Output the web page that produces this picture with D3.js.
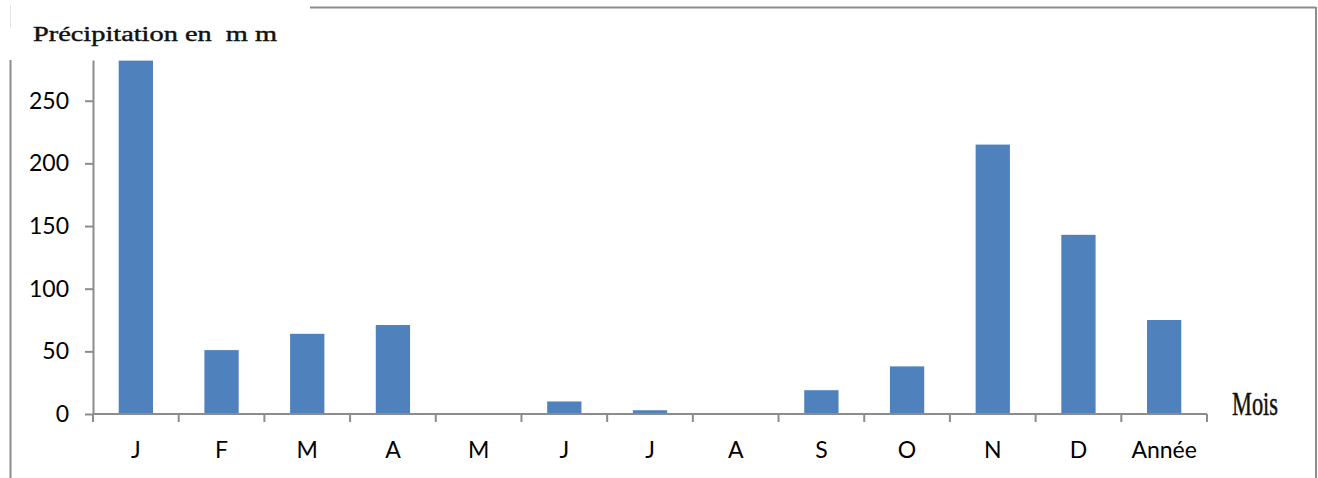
<!DOCTYPE html>
<html>
<head>
<meta charset="utf-8">
<script src="https://cdn.jsdelivr.net/npm/d3@7"></script>
<style>
  html, body { margin: 0; padding: 0; background: #fff; }
  svg { display: block; }
</style>
</head>
<body>
<svg id="chart" width="1318" height="478"></svg>
<script>
const categories = ["J", "F", "M", "A", "M", "J", "J", "A", "S", "O", "N", "D", "Année"];
const precipitation = [282, 51, 64, 71, 0, 10, 3, 0, 19, 38, 215, 143, 75];
const yTicks = [0, 50, 100, 150, 200, 250];

const svg = d3.select("#chart");
const margin = { left: 93, right: 111, top: 60, bottom: 64 };
const W = 1318, H = 478;
const labelFont = "Lato, 'Open Sans', 'Liberation Sans', sans-serif";

const x = d3.scaleBand()
  .domain(d3.range(categories.length))
  .range([margin.left, W - margin.right])
  .paddingInner(0.6)
  .paddingOuter(0.3);

const y = d3.scaleLinear()
  .domain([0, 282.5])
  .range([H - margin.bottom, margin.top]);

// frame lines
svg.append("line").attr("x1", 10.5).attr("x2", 10.5).attr("y1", 5).attr("y2", 28)
  .attr("stroke", "#e4e4e4").attr("stroke-width", 1);
svg.append("line").attr("x1", 10.5).attr("x2", 10.5).attr("y1", 60).attr("y2", H)
  .attr("stroke", "#8c8c8c").attr("stroke-width", 2);
svg.append("line").attr("x1", 310).attr("x2", 1316).attr("y1", 7.5).attr("y2", 7.5)
  .attr("stroke", "#8c8c8c").attr("stroke-width", 2);
svg.append("line").attr("x1", 1316).attr("x2", 1316).attr("y1", 7).attr("y2", H)
  .attr("stroke", "#8c8c8c").attr("stroke-width", 2);

// bars
svg.append("g").selectAll("rect")
  .data(precipitation)
  .join("rect")
  .attr("x", (d, i) => x(i))
  .attr("width", x.bandwidth())
  .attr("y", d => y(Math.min(d, 282.5)))
  .attr("height", d => y(0) - y(Math.min(d, 282.5)))
  .attr("fill", "#4f81bd");

// y axis
const yAxis = d3.axisLeft(y).tickValues(yTicks).tickSize(8).tickSizeOuter(0).tickPadding(16);
const gy = svg.append("g").attr("transform", `translate(${margin.left},0)`).call(yAxis);
gy.select(".domain").attr("stroke", "#8c8c8c").attr("stroke-width", 2);
gy.selectAll(".tick line").attr("stroke", "#8c8c8c").attr("stroke-width", 2);
gy.selectAll(".tick text").attr("font-family", labelFont)
  .attr("font-size", 23).attr("fill", "#000");

// x axis
const xPos = d3.scaleLinear().domain([0, categories.length]).range([margin.left, W - margin.right]);
const gx = svg.append("g").attr("transform", `translate(0,${y(0)})`);
gx.append("line").attr("x1", margin.left).attr("x2", W - margin.right)
  .attr("stroke", "#8c8c8c").attr("stroke-width", 2);
gx.selectAll("line.tk").data(d3.range(categories.length + 1)).join("line")
  .attr("class", "tk")
  .attr("x1", d => xPos(d)).attr("x2", d => xPos(d))
  .attr("y1", 0).attr("y2", 8)
  .attr("stroke", "#8c8c8c").attr("stroke-width", 2);
gx.selectAll("text").data(categories).join("text")
  .attr("x", (d, i) => x(i) + x.bandwidth() / 2)
  .attr("y", 44)
  .attr("text-anchor", "middle")
  .attr("font-family", labelFont)
  .attr("font-size", 23)
  .attr("fill", "#000")
  .text(d => d);

// axis titles
svg.append("text")
  .attr("x", 33).attr("y", 41)
  .attr("font-family", "'Liberation Serif', 'DejaVu Serif', serif")
  .attr("font-size", 20)
  .attr("textLength", 244)
  .attr("lengthAdjust", "spacingAndGlyphs")
  .style("white-space", "pre")
  .attr("fill", "#111")
  .attr("stroke", "#111").attr("stroke-width", 0.4)
  .text("Précipitation en  m m");

svg.append("text")
  .attr("x", 1232).attr("y", 415)
  .attr("font-family", "'Liberation Serif', 'DejaVu Serif', serif")
  .attr("font-size", 34)
  .attr("textLength", 46)
  .attr("lengthAdjust", "spacingAndGlyphs")
  .attr("fill", "#111")
  .attr("stroke", "#111").attr("stroke-width", 0.5)
  .text("Mois");
</script>
</body>
</html>
